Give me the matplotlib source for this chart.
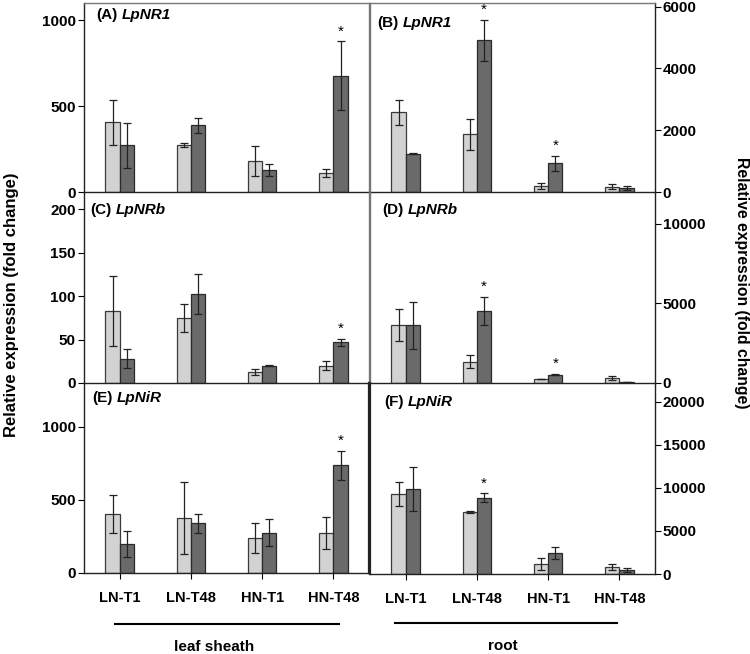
import matplotlib.pyplot as plt
import numpy as np
from matplotlib.lines import Line2D

plt.rcParams['font.family'] = ['Liberation Sans', 'DejaVu Sans']
plt.rcParams['font.weight'] = 'bold'

categories = ['LN-T1', 'LN-T48', 'HN-T1', 'HN-T48']

# (A) LpNR1 leaf sheath
a_light = [406, 274, 179, 111]
a_light_err = [130, 14, 88, 24]
a_dark = [272, 388, 130, 678]
a_dark_err = [130, 43, 35, 198]
a_sig = [False, False, False, True]

# (B) LpNR1 root
b_light = [2580, 1871, 194, 172]
b_light_err = [410, 495, 95, 75]
b_dark = [1237, 4914, 925, 140]
b_dark_err = [20, 670, 240, 60]
b_sig = [False, True, True, False]

# (C) LpNRb leaf sheath
c_light = [83, 75, 12.7, 20]
c_light_err = [40, 16, 4, 5]
c_dark = [28, 103, 20, 47]
c_dark_err = [11, 23, 0.6, 4]
c_sig = [False, False, False, True]

# (D) LpNRb root
d_light = [3640, 1326, 250, 316]
d_light_err = [1020, 410, 30, 130]
d_dark = [3640, 4526, 526, 60]
d_dark_err = [1480, 900, 40, 20]
d_sig = [False, True, True, False]

# (E) LpNiR leaf sheath
e_light = [402, 375, 239, 273]
e_light_err = [130, 248, 102, 112]
e_dark = [198, 339, 275, 736]
e_dark_err = [88, 66, 93, 99]
e_sig = [False, False, False, True]

# (F) LpNiR root
f_light = [9320, 7184, 1165, 815]
f_light_err = [1360, 150, 660, 310]
f_dark = [9900, 8854, 2447, 427]
f_dark_err = [2540, 520, 720, 230]
f_sig = [False, True, False, False]

light_col = '#d2d2d2'
dark_col = '#6a6a6a'
W, H = 750, 654

fig = plt.figure(figsize=(7.5, 6.54), dpi=100)


def px_axes(x0, y0, x1, y1):
    return fig.add_axes([x0 / W, 1 - y1 / H, (x1 - x0) / W, (y1 - y0) / H])


def draw_panel(ax, light, light_err, dark, dark_err, sig, ymax, yticks, side, bottom_row):
    x = np.arange(len(categories))
    bw = 0.2
    ax.bar(x - bw / 2, light, bw, color=light_col, edgecolor='#3a3a3a', linewidth=0.9)
    ax.bar(x + bw / 2, dark, bw, color=dark_col, edgecolor='#2a2a2a', linewidth=0.9)
    ax.errorbar(x - bw / 2, light, yerr=light_err, fmt='none', ecolor='#222222',
                elinewidth=0.9, capsize=3, capthick=0.9)
    ax.errorbar(x + bw / 2, dark, yerr=dark_err, fmt='none', ecolor='#222222',
                elinewidth=0.9, capsize=3, capthick=0.9)
    for i, s in enumerate(sig):
        if s:
            ax.annotate('*', (x[i] + bw / 2, dark[i] + dark_err[i]), xytext=(0, 2),
                        textcoords='offset points', ha='center', va='bottom',
                        fontsize=11, fontweight='normal', annotation_clip=False)
    ax.set_xlim(-0.5, 3.5)
    ax.set_ylim(0, ymax)
    ax.set_yticks(yticks)
    ax.tick_params(axis='y', direction='out', length=4, width=0.8, labelsize=11, pad=2)
    if side == 'right':
        ax.yaxis.tick_right()
        ax.tick_params(axis='y', pad=1.5)
    if bottom_row:
        ax.set_xticks(x)
        ax.set_xticklabels(categories, fontsize=10.5, fontweight='bold')
        ax.tick_params(axis='x', direction='out', length=4, width=0.8, pad=9)
    else:
        ax.set_xticks([])
    for sp in ax.spines.values():
        sp.set_linewidth(1.0)
        sp.set_color('#222222')
    ax.set_facecolor('none')


# left column (leaf sheath)
axA = px_axes(84, 3, 369, 192)
axC = px_axes(84, 192, 369, 383)
axE = px_axes(84, 383, 369, 573)
# right column (root)
axB = px_axes(370, 3, 655, 192)
axD = px_axes(370, 192, 655, 383)
axF = px_axes(370, 383, 655, 574)

draw_panel(axA, a_light, a_light_err, a_dark, a_dark_err, a_sig, 1100, [0, 500, 1000], 'left', False)
draw_panel(axC, c_light, c_light_err, c_dark, c_dark_err, c_sig, 220, [0, 50, 100, 150, 200], 'left', False)
draw_panel(axE, e_light, e_light_err, e_dark, e_dark_err, e_sig, 1300, [0, 500, 1000], 'left', True)
draw_panel(axB, b_light, b_light_err, b_dark, b_dark_err, b_sig, 6120, [0, 2000, 4000, 6000], 'right', False)
draw_panel(axD, d_light, d_light_err, d_dark, d_dark_err, d_sig, 12000, [0, 5000, 10000], 'right', False)
draw_panel(axF, f_light, f_light_err, f_dark, f_dark_err, f_sig, 22200, [0, 5000, 10000, 15000, 20000], 'right', True)

# frame look
for ax in (axA, axB):
    ax.spines['top'].set_color('#777777')
for ax in (axA, axC):
    ax.spines['right'].set_color('#777777')
for ax in (axB, axD):
    ax.spines['left'].set_color('#777777')
for ax in (axC, axD, axE, axF):
    ax.spines['top'].set_visible(False)
axE.spines['right'].set_linewidth(1.6)
axF.spines['left'].set_linewidth(1.6)

# panel titles: letter upright, gene name italic
titles = [
    (96, 15, '(A)', 'LpNR1'),
    (377, 23, '(B)', 'LpNR1'),
    (90, 210, '(C)', 'LpNRb'),
    (382, 210, '(D)', 'LpNRb'),
    (92, 398, '(E)', 'LpNiR'),
    (384, 402, '(F)', 'LpNiR'),
]
renderer = fig.canvas.get_renderer()
for tx, ty, lab, gene in titles:
    t = fig.text(tx / W, 1 - ty / H, lab, fontsize=11, fontweight='bold', ha='left', va='center')
    x1 = t.get_window_extent(renderer).x1
    fig.text((x1 + 4) / W, 1 - ty / H, gene, fontsize=11, fontweight='bold', style='italic',
             ha='left', va='center')

# y labels
fig.text(12 / W, 1 - 305 / H, 'Relative expression (fold change)', rotation=90,
         ha='center', va='center', fontsize=12, fontweight='bold')
fig.text(741 / W, 1 - 283 / H, 'Relative expression (fold change)', rotation=-90,
         ha='center', va='center', fontsize=11.3, fontweight='bold')

# tissue group lines
fig.add_artist(Line2D([115 / W, 339 / W], [1 - 624 / H, 1 - 624 / H], color='black', lw=1.5))
fig.add_artist(Line2D([395 / W, 617 / W], [1 - 623 / H, 1 - 623 / H], color='black', lw=1.5))
fig.text(214 / W, 1 - 647 / H, 'leaf sheath', ha='center', va='center', fontsize=11, fontweight='bold')
fig.text(503 / W, 1 - 646 / H, 'root', ha='center', va='center', fontsize=11, fontweight='bold')

fig.savefig('out.png', dpi=100)
